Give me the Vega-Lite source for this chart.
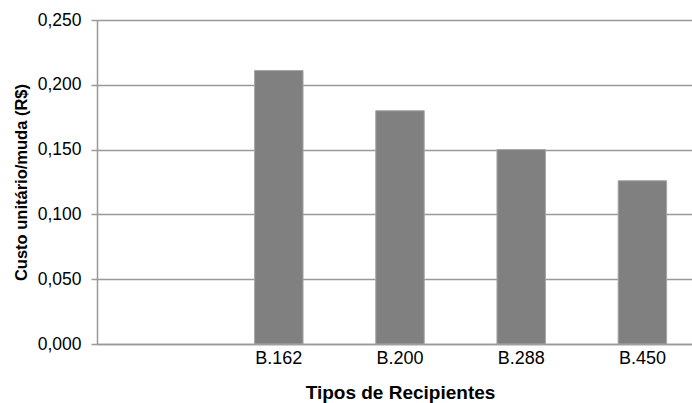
{
  "$schema": "https://vega.github.io/schema/vega-lite/v6.json",
  "autosize": {"type": "none"},
  "padding": {"left": 97, "top": 20, "right": 0, "bottom": 59},
  "width": 606,
  "height": 324,
  "background": "white",
  "config": {"view": {"stroke": null}, "font": "Liberation Sans"},
  "data": {
    "values": [
      {"tipo": " ", "custo": null},
      {"tipo": "B.162", "custo": 0.211},
      {"tipo": "B.200", "custo": 0.180},
      {"tipo": "B.288", "custo": 0.150},
      {"tipo": "B.450", "custo": 0.126}
    ]
  },
  "mark": {"type": "bar", "fill": "#808080", "stroke": "#a6a6a6", "strokeWidth": 1},
  "encoding": {
    "x": {
      "field": "tipo",
      "type": "nominal",
      "scale": {"domain": [" ", "B.162", "B.200", "B.288", "B.450"], "paddingInner": 0.6, "paddingOuter": 0.3},
      "axis": {
        "title": "Tipos de Recipientes",
        "titleFont": "Liberation Sans",
        "titleFontSize": 19,
        "titleFontWeight": "bold",
        "titleColor": "#000000",
        "titlePadding": 16,
        "labelAngle": 0,
        "labelFontSize": 18,
        "labelColor": "#000000",
        "labelPadding": 5,
        "ticks": false,
        "domainColor": "#999999",
        "domainWidth": 1.5,
        "grid": false
      }
    },
    "y": {
      "field": "custo",
      "type": "quantitative",
      "scale": {"domain": [0, 0.25], "nice": false},
      "axis": {
        "title": "Custo unitário/muda (R$)",
        "titleFont": "Liberation Sans",
        "titleFontSize": 16.5,
        "titleFontWeight": "bold",
        "titleColor": "#000000",
        "titlePadding": 8,
        "values": [0, 0.05, 0.1, 0.15, 0.2, 0.25],
        "labelExpr": "replace(format(datum.value, '.3f'), '.', ',')",
        "labelFontSize": 17.5,
        "labelColor": "#000000",
        "labelPadding": 10,
        "tickSize": 6,
        "tickColor": "#999999",
        "tickWidth": 1.5,
        "domainColor": "#999999",
        "domainWidth": 1.5,
        "grid": true,
        "gridColor": "#999999",
        "gridWidth": 1.5
      }
    }
  }
}
